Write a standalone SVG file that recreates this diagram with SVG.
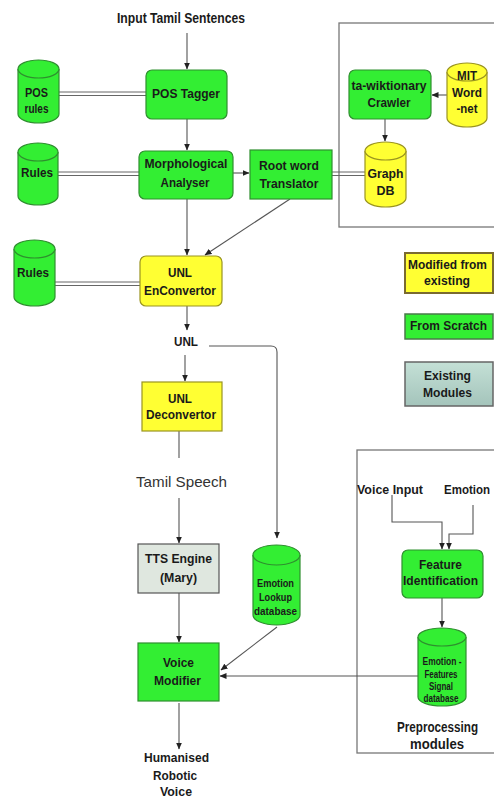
<svg xmlns="http://www.w3.org/2000/svg" width="494" height="800" viewBox="0 0 494 800">
<defs>
<marker id="ah" markerWidth="7" markerHeight="7" refX="6.5" refY="3.5" orient="auto" markerUnits="userSpaceOnUse">
<path d="M0,0.5 L7,3.5 L0,6.5 Z" fill="#222"/>
</marker>
<linearGradient id="gex" x1="0" y1="0" x2="0" y2="1">
<stop offset="0" stop-color="#c4e0d6"/>
<stop offset="1" stop-color="#a4c4bb"/>
</linearGradient>
<style>
text{font-family:"Liberation Sans",Arial,sans-serif;font-weight:bold;fill:#1a1a1a;text-anchor:middle}
.t{font-size:13px}
.s{font-size:11px}
.n{font-weight:normal;font-size:15px;fill:#333}
.g{fill:#33ee33;stroke:#2f8f2f;stroke-width:1.2}
.y{fill:#ffff33;stroke:#9a9420;stroke-width:1.2}
.gr{fill:#dfe7df;stroke:#555;stroke-width:1.2}
.c{fill:none;stroke:#555;stroke-width:1.1}
.d{fill:none;stroke:#666;stroke-width:1}
.frame{fill:none;stroke:#777;stroke-width:1.3}
</style>
</defs>
<rect width="494" height="800" fill="#fff"/>

<g id="frames">
<rect class="frame" x="339" y="23" width="170" height="204"/>
<rect class="frame" x="357" y="450" width="150" height="303"/>
</g>

<g id="connectors">
<line class="c" x1="187" y1="33" x2="187" y2="69" marker-end="url(#ah)"/>
<line class="c" x1="187" y1="119" x2="187" y2="150" marker-end="url(#ah)"/>
<line class="c" x1="233" y1="173" x2="249" y2="173" marker-end="url(#ah)"/>
<line class="d" x1="59" y1="92" x2="146" y2="92"/>
<line class="d" x1="59" y1="95.5" x2="146" y2="95.5"/>
<line class="d" x1="58" y1="172" x2="139" y2="172"/>
<line class="d" x1="58" y1="175.5" x2="139" y2="175.5"/>
<line class="d" x1="55" y1="282" x2="140" y2="282"/>
<line class="d" x1="55" y1="285.5" x2="140" y2="285.5"/>
<line class="d" x1="332" y1="172" x2="366" y2="172"/>
<line class="d" x1="332" y1="175.5" x2="366" y2="175.5"/>
<line class="c" x1="447" y1="95" x2="432" y2="95" marker-end="url(#ah)"/>
<line class="c" x1="385" y1="119" x2="385" y2="141" marker-end="url(#ah)"/>
<line class="c" x1="187" y1="199" x2="187" y2="255" marker-end="url(#ah)"/>
<line class="c" x1="290" y1="199" x2="205" y2="255" marker-end="url(#ah)"/>
<line class="c" x1="187" y1="306" x2="187" y2="330" marker-end="url(#ah)"/>
<line class="c" x1="185" y1="355" x2="185" y2="381" marker-end="url(#ah)"/>
<path class="c" d="M209,346 H271 Q277,346 277,352 V538" marker-end="url(#ah)"/>
<line class="c" x1="179" y1="431" x2="179" y2="458"/>
<line class="c" x1="179" y1="498" x2="179" y2="543" marker-end="url(#ah)"/>
<line class="c" x1="179" y1="593" x2="179" y2="642" marker-end="url(#ah)"/>
<line class="c" x1="277" y1="627" x2="221" y2="670" marker-end="url(#ah)"/>
<line class="c" x1="418" y1="676" x2="220" y2="676" marker-end="url(#ah)"/>
<line class="c" x1="179" y1="703" x2="179" y2="749" marker-end="url(#ah)"/>
<path class="c" d="M392,495 V522 H442 V549" marker-end="url(#ah)"/>
<path class="c" d="M473,505 V534 H449 V549" marker-end="url(#ah)"/>
<line class="c" x1="442" y1="598" x2="442" y2="627" marker-end="url(#ah)"/>
</g>

<g id="input-label"><text class="t" x="181" y="23" style="font-size:15px" textLength="128" lengthAdjust="spacingAndGlyphs">Input Tamil Sentences</text></g>

<g id="pos-rules">
<path class="g" d="M18,69 A20.5,9 0 0 1 59,69 V114 A20.5,9 0 0 1 18,114 Z"/>
<path class="g" d="M18,69 A20.5,9 0 0 0 59,69" fill="none"/>
<text class="t" x="36.5" y="97" textLength="23" lengthAdjust="spacingAndGlyphs">POS</text>
<text class="t" x="36.5" y="113" textLength="24" lengthAdjust="spacingAndGlyphs">rules</text>
</g>

<g id="pos-tagger">
<rect class="g" x="146" y="70" width="81" height="49" rx="6"/>
<text class="t" x="186" y="98" textLength="68" lengthAdjust="spacingAndGlyphs">POS Tagger</text>
</g>

<g id="rules1">
<path class="g" d="M18,152 A20,9 0 0 1 58,152 V196 A20,9 0 0 1 18,196 Z"/>
<path class="g" d="M18,152 A20,9 0 0 0 58,152" fill="none"/>
<text class="t" x="37" y="177" textLength="32" lengthAdjust="spacingAndGlyphs">Rules</text>
</g>

<g id="morph">
<rect class="g" x="139" y="151" width="94" height="48" rx="6"/>
<text class="t" x="186" y="168" textLength="83" lengthAdjust="spacingAndGlyphs">Morphological</text>
<text class="t" x="185" y="187" textLength="49" lengthAdjust="spacingAndGlyphs">Analyser</text>
</g>

<g id="root-word">
<rect class="g" x="250" y="150" width="82" height="49"/>
<text class="t" x="289" y="170" textLength="60" lengthAdjust="spacingAndGlyphs">Root word</text>
<text class="t" x="289" y="188" textLength="59" lengthAdjust="spacingAndGlyphs">Translator</text>
</g>

<g id="graph-db">
<path class="y" d="M365,151 A20.5,9 0 0 1 406,151 V198 A20.5,9 0 0 1 365,198 Z"/>
<path class="y" d="M365,151 A20.5,9 0 0 0 406,151" fill="none"/>
<text class="t" x="385.5" y="178" textLength="36" lengthAdjust="spacingAndGlyphs">Graph</text>
<text class="t" x="385.5" y="195" textLength="18" lengthAdjust="spacingAndGlyphs">DB</text>
</g>

<g id="crawler">
<rect class="g" x="349" y="70" width="82" height="49" rx="6"/>
<text class="t" x="389" y="90" textLength="75" lengthAdjust="spacingAndGlyphs">ta-wiktionary</text>
<text class="t" x="389" y="107" textLength="43" lengthAdjust="spacingAndGlyphs">Crawler</text>
</g>

<g id="wordnet">
<path class="y" d="M447,72 A20,9 0 0 1 487,72 V118 A20,9 0 0 1 447,118 Z"/>
<path class="y" d="M447,72 A20,9 0 0 0 487,72" fill="none"/>
<text class="t" x="467" y="80" textLength="20" lengthAdjust="spacingAndGlyphs">MIT</text>
<text class="t" x="467" y="97" textLength="30" lengthAdjust="spacingAndGlyphs">Word</text>
<text class="t" x="467" y="113" textLength="21" lengthAdjust="spacingAndGlyphs">-net</text>
</g>

<g id="rules2">
<path class="g" d="M14,249 A20.5,9 0 0 1 55,249 V297 A20.5,9 0 0 1 14,297 Z"/>
<path class="g" d="M14,249 A20.5,9 0 0 0 55,249" fill="none"/>
<text class="t" x="33" y="277" textLength="32" lengthAdjust="spacingAndGlyphs">Rules</text>
</g>

<g id="enconvertor">
<rect class="y" x="140" y="256" width="82" height="50" rx="6"/>
<text class="t" x="180" y="277" textLength="24" lengthAdjust="spacingAndGlyphs">UNL</text>
<text class="t" x="180" y="295" textLength="72" lengthAdjust="spacingAndGlyphs">EnConvertor</text>
</g>

<g id="unl-label"><text class="t" x="186" y="346" textLength="24" lengthAdjust="spacingAndGlyphs">UNL</text></g>

<g id="deconvertor">
<rect class="y" x="142" y="382" width="80" height="49"/>
<text class="t" x="180" y="403" textLength="24" lengthAdjust="spacingAndGlyphs">UNL</text>
<text class="t" x="181" y="419" textLength="70" lengthAdjust="spacingAndGlyphs">Deconvertor</text>
</g>

<g id="legend-modified">
<rect x="405" y="253" width="88" height="40" fill="#ffff33" stroke="#7a6a30" stroke-width="2"/>
<text class="t" x="447.5" y="269" textLength="79" lengthAdjust="spacingAndGlyphs">Modified from</text>
<text class="t" x="447" y="285" textLength="46" lengthAdjust="spacingAndGlyphs">existing</text>
</g>
<g id="legend-scratch">
<rect x="405" y="314" width="88" height="25" fill="#33ee33" stroke="#4a7a4a" stroke-width="1.5"/>
<text class="t" x="448.5" y="330" textLength="77" lengthAdjust="spacingAndGlyphs">From Scratch</text>
</g>
<g id="legend-existing">
<rect x="405" y="362" width="88" height="44" fill="url(#gex)" stroke="#666" stroke-width="1.5"/>
<text class="t" x="447.5" y="380" textLength="47" lengthAdjust="spacingAndGlyphs">Existing</text>
<text class="t" x="447.5" y="397" textLength="49" lengthAdjust="spacingAndGlyphs">Modules</text>
</g>

<g id="tamil-speech"><text class="n" x="181.5" y="487" textLength="91" lengthAdjust="spacingAndGlyphs">Tamil Speech</text></g>

<g id="tts">
<rect class="gr" x="138" y="544" width="81" height="49"/>
<text class="t" x="178.5" y="563" textLength="67" lengthAdjust="spacingAndGlyphs">TTS Engine</text>
<text class="t" x="178.5" y="582" textLength="37" lengthAdjust="spacingAndGlyphs">(Mary)</text>
</g>

<g id="emotion-lookup">
<path class="g" d="M253,555 A23.5,10 0 0 1 300,555 V615 A23.5,10 0 0 1 253,615 Z"/>
<path class="g" d="M253,555 A23.5,10 0 0 0 300,555" fill="none"/>
<text class="s" x="275.5" y="587" textLength="37" lengthAdjust="spacingAndGlyphs">Emotion</text>
<text class="s" x="275.5" y="601" textLength="33" lengthAdjust="spacingAndGlyphs">Lookup</text>
<text class="s" x="275.5" y="615" textLength="43" lengthAdjust="spacingAndGlyphs">database</text>
</g>

<g id="voice-modifier">
<rect class="g" x="138" y="643" width="81" height="58"/>
<text class="t" x="178.5" y="667" textLength="31" lengthAdjust="spacingAndGlyphs">Voice</text>
<text class="t" x="177.5" y="685" textLength="47" lengthAdjust="spacingAndGlyphs">Modifier</text>
</g>

<g id="output-label">
<text class="t" x="176.5" y="762" textLength="65" lengthAdjust="spacingAndGlyphs">Humanised</text>
<text class="t" x="175" y="780" textLength="44" lengthAdjust="spacingAndGlyphs">Robotic</text>
<text class="t" x="176" y="796" textLength="32" lengthAdjust="spacingAndGlyphs">Voice</text>
</g>

<g id="voice-input-label"><text class="t" x="390" y="494" textLength="66" lengthAdjust="spacingAndGlyphs">Voice Input</text></g>
<g id="emotion-label"><text class="t" x="444" y="494" style="text-anchor:start;font-size:12px" textLength="46" lengthAdjust="spacingAndGlyphs">Emotion</text></g>

<g id="feature-id">
<rect class="g" x="402" y="550" width="81" height="48" rx="6"/>
<text class="t" x="440.5" y="569" textLength="43" lengthAdjust="spacingAndGlyphs">Feature</text>
<text class="t" x="440.5" y="585" textLength="75" lengthAdjust="spacingAndGlyphs">Identification</text>
</g>

<g id="emotion-features-db">
<path class="g" d="M418,637 A24,9 0 0 1 466,637 V697 A24,9 0 0 1 418,697 Z"/>
<path class="g" d="M418,637 A24,9 0 0 0 466,637" fill="none"/>
<text class="s" x="442" y="665" style="font-size:10px" textLength="39" lengthAdjust="spacingAndGlyphs">Emotion -</text>
<text class="s" x="441" y="678" style="font-size:10px" textLength="33" lengthAdjust="spacingAndGlyphs">Features</text>
<text class="s" x="441" y="690" style="font-size:10px" textLength="24" lengthAdjust="spacingAndGlyphs">Signal</text>
<text class="s" x="441" y="702" style="font-size:10px" textLength="35" lengthAdjust="spacingAndGlyphs">database</text>
</g>

<g id="preprocessing-label">
<text class="t" x="437.5" y="732" style="font-size:14px" textLength="81" lengthAdjust="spacingAndGlyphs">Preprocessing</text>
<text class="t" x="437" y="749" style="font-size:14px" textLength="54" lengthAdjust="spacingAndGlyphs">modules</text>
</g>
</svg>
